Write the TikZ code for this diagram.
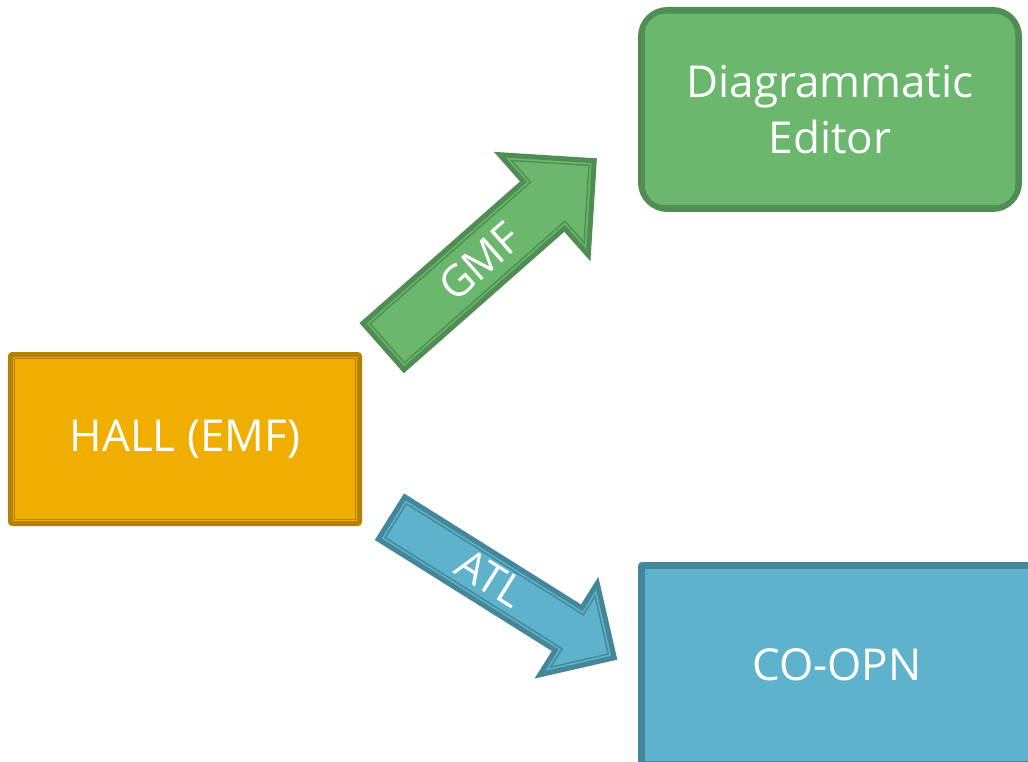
\documentclass[tikz,border=0pt]{standalone}
\usepackage{fontspec}
\setmainfont{Open Sans}
\usetikzlibrary{calc}
\definecolor{goldfill}{RGB}{240,174,0}
\definecolor{goldline}{RGB}{181,129,0}
\definecolor{greenfill}{RGB}{107,183,110}
\definecolor{greenline}{RGB}{79,141,83}
\definecolor{bluefill}{RGB}{95,178,203}
\definecolor{blueline}{RGB}{69,135,154}

\begin{document}
\begin{tikzpicture}[x=1pt,y=-1pt,
  box/.style={draw, line width=5pt, text=white, align=center,
              font=\fontsize{44}{56}\selectfont, inner sep=0pt},
  innerline/.style={line width=1.5pt},
  arrowbody/.style={line width=5pt, line join=miter},
  arrowinner/.style={line width=1.4pt},
  arrowlabel/.style={text=white, font=\fontsize{43}{50}\selectfont,
                     transform shape, inner sep=0pt}
]
\path[use as bounding box, clip] (0,0) rectangle (1028,762);

% source box
\node[box, fill=goldfill, draw=goldline, rounded corners=2pt,
      minimum width=349pt, minimum height=169pt] (hall) at (185,439) {HALL (EMF)};
\draw[innerline, goldline] ($(hall.north west)+(6.5,6.5)$)
                 rectangle ($(hall.south east)+(-6.5,-6.5)$);

% editor box
\node[box, fill=greenfill, draw=greenline, rounded corners=27pt,
      minimum width=379pt, minimum height=200pt] (editor) at (830,109.5)
      {Diagrammatic\\Editor};
\draw[innerline, greenline, rounded corners=21pt]
      ($(editor.north west)+(6,6)$) rectangle ($(editor.south east)+(-6,-6)$);

% CO-OPN box
\node[box, fill=bluefill, draw=blueline, rounded corners=2pt,
      minimum width=393pt, minimum height=201pt] (coopn) at (837,665) {CO-OPN};
\draw[innerline, blueline] ($(coopn.north west)+(6,6)$)
                 rectangle ($(coopn.south east)+(-6,-6)$);

% GMF block arrow
\begin{scope}[shift={(383.5,346.5)}, rotate=41.4]
  \filldraw[arrowbody, fill=greenfill, draw=greenline]
    (0,31) -- (214,31) -- (214,67) -- (281,0) -- (214,-67) -- (214,-31) -- (0,-31) -- cycle;
  \draw[arrowinner, greenline]
    (5,26) -- (219,26) -- (219,54.9) -- (273.9,0) -- (219,-54.9) -- (219,-26) -- (5,-26) -- cycle;
  \node[arrowlabel] (gmf) at (128,0) {GMF};
\end{scope}

% ATL block arrow
\begin{scope}[shift={(391.5,518)}, rotate=-32.1]
  \filldraw[arrowbody, fill=bluefill, draw=blueline]
    (0,25) -- (209,25) -- (209,54) -- (263,0) -- (209,-54) -- (209,-25) -- (0,-25) -- cycle;
  \draw[arrowinner, blueline]
    (5,20) -- (214,20) -- (214,41.9) -- (255.9,0) -- (214,-41.9) -- (214,-20) -- (5,-20) -- cycle;
  \node[arrowlabel] (atl) at (116,-2) {ATL};
\end{scope}
\end{tikzpicture}
\end{document}
